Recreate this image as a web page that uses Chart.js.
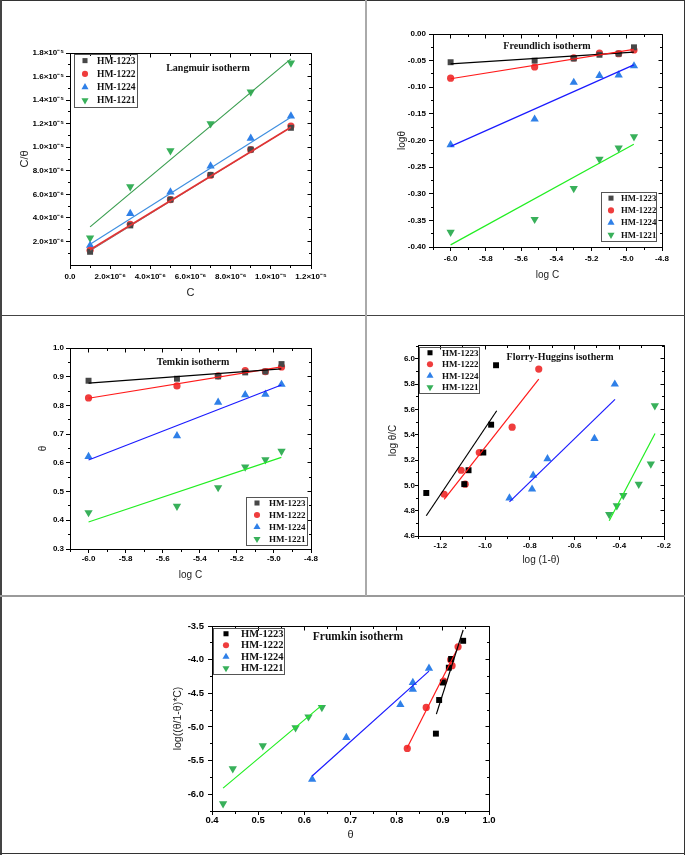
<!DOCTYPE html>
<html><head><meta charset="utf-8">
<script src="https://cdn.jsdelivr.net/npm/chart.js@4.4.1/dist/chart.umd.min.js"></script>
<style>
html,body{margin:0;padding:0;background:#fff;}
#page{position:relative;width:685px;height:855px;overflow:hidden;background:#fff;}
canvas{position:absolute;}
.ln{position:absolute;z-index:5;}
</style></head><body>
<div id="page">
<canvas id="c1"></canvas><canvas id="c2"></canvas><canvas id="c3"></canvas><canvas id="c4"></canvas><canvas id="c5"></canvas>
<div class="ln" style="left:0;top:0;width:685px;height:1px;background:#333"></div>
<div class="ln" style="left:0;top:0;width:2px;height:855px;background:#444"></div>
<div class="ln" style="left:684px;top:0;width:1px;height:855px;background:#333"></div>
<div class="ln" style="left:0;top:853px;width:685px;height:1px;background:#333"></div>
<div class="ln" style="left:0;top:315px;width:685px;height:1px;background:#444"></div>
<div class="ln" style="left:0;top:595px;width:685px;height:2px;background:#9a9a9a"></div>
<div class="ln" style="left:365px;top:0;width:2px;height:596px;background:#aaa"></div>
</div>
<script>
// ---------------- DATA ----------------
const seriesNames = ['HM-1223', 'HM-1222', 'HM-1224', 'HM-1221'];

// Langmuir: C vs C/theta
const langC = [1e-6, 3e-6, 5e-6, 7e-6, 9e-6, 1.1e-5];
const lang1223 = [1.12e-6, 3.36e-6, 5.55e-6, 7.65e-6, 9.8e-6, 1.165e-5];
const lang1222 = [1.25e-6, 3.45e-6, 5.55e-6, 7.62e-6, 9.8e-6, 1.18e-5];
const lang1224 = [1.66e-6, 4.37e-6, 6.2e-6, 8.4e-6, 1.076e-5, 1.265e-5];
const lang1221 = [2.3e-6, 6.65e-6, 9.7e-6, 1.2e-5, 1.47e-5, 1.715e-5];
const langFitX = [1e-6, 1.1e-5];
const langFit1223 = [1.2e-6, 1.17e-5];
const langFit1222 = [1.3e-6, 1.17e-5];
const langFit1224 = [1.77e-6, 1.255e-5];
const langFit1221 = [3.24e-6, 1.75e-5];
const langXTicks = [0, 2e-6, 4e-6, 6e-6, 8e-6, 1e-5, 1.2e-5];
const langXLabels = ['0.0', '2.0×10⁻⁶', '4.0×10⁻⁶', '6.0×10⁻⁶', '8.0×10⁻⁶', '1.0×10⁻⁵', '1.2×10⁻⁵'];
const langYTicks = [2e-6, 4e-6, 6e-6, 8e-6, 1e-5, 1.2e-5, 1.4e-5, 1.6e-5, 1.8e-5];
const langYLabels = ['2.0×10⁻⁶', '4.0×10⁻⁶', '6.0×10⁻⁶', '8.0×10⁻⁶', '1.0×10⁻⁵', '1.2×10⁻⁵', '1.4×10⁻⁵', '1.6×10⁻⁵', '1.8×10⁻⁵'];

// Freundlich: log C vs log theta
const logC = [-6.0, -5.523, -5.301, -5.155, -5.046, -4.959];
const freu1223 = [-0.053, -0.050, -0.046, -0.039, -0.037, -0.025];
const freu1222 = [-0.083, -0.062, -0.045, -0.036, -0.037, -0.030];
const freu1224 = [-0.208, -0.160, -0.091, -0.078, -0.077, -0.060];
const freu1221 = [-0.372, -0.348, -0.290, -0.235, -0.214, -0.193];
const freuFitX = [-6.0, -4.96];
const freuFit1223 = [-0.056, -0.034];
const freuFit1222 = [-0.084, -0.029];
const freuFit1224 = [-0.211, -0.058];
const freuFit1221 = [-0.396, -0.207];
const logCTicks = [-6.0, -5.8, -5.6, -5.4, -5.2, -5.0, -4.8];
const logCLabels = ['-6.0', '-5.8', '-5.6', '-5.4', '-5.2', '-5.0', '-4.8'];
const freuYTicks = [-0.40, -0.35, -0.30, -0.25, -0.20, -0.15, -0.10, -0.05, 0.00];
const freuYLabels = ['-0.40', '-0.35', '-0.30', '-0.25', '-0.20', '-0.15', '-0.10', '-0.05', '0.00'];

// Temkin: log C vs theta
const temk1223 = [0.886, 0.893, 0.901, 0.915, 0.918, 0.944];
const temk1222 = [0.826, 0.868, 0.903, 0.921, 0.918, 0.934];
const temk1224 = [0.622, 0.694, 0.811, 0.837, 0.839, 0.873];
const temk1221 = [0.427, 0.449, 0.514, 0.586, 0.611, 0.641];
const temkFitX = [-6.0, -4.96];
const temkFit1223 = [0.878, 0.927];
const temkFit1222 = [0.825, 0.934];
const temkFit1224 = [0.610, 0.871];
const temkFit1221 = [0.394, 0.619];
const temkYTicks = [0.3, 0.4, 0.5, 0.6, 0.7, 0.8, 0.9, 1.0];
const temkYLabels = ['0.3', '0.4', '0.5', '0.6', '0.7', '0.8', '0.9', '1.0'];

// Florry-Huggins: log(1-theta) vs log(theta/C)
const fhX1223 = [-1.263, -1.093, -1.074, -1.008, -0.973, -0.951];
const fhY1223 = [4.94, 5.01, 5.12, 5.26, 5.48, 5.95];
const fhX1222 = [-1.183, -1.107, -1.089, -1.026, -0.879, -0.760];
const fhY1222 = [4.93, 5.12, 5.01, 5.26, 5.46, 5.92];
const fhX1224 = [-0.891, -0.790, -0.785, -0.721, -0.511, -0.420];
const fhY1224 = [4.90, 4.97, 5.08, 5.21, 5.37, 5.80];
const fhX1221 = [-0.445, -0.411, -0.382, -0.313, -0.259, -0.241];
const fhY1221 = [4.77, 4.84, 4.92, 5.01, 5.17, 5.63];
const fhFitX1223 = [-1.263, -0.948]; const fhFitY1223 = [4.76, 5.59];
const fhFitX1222 = [-1.183, -0.760]; const fhFitY1222 = [4.89, 5.84];
const fhFitX1224 = [-0.891, -0.419]; const fhFitY1224 = [4.87, 5.68];
const fhFitX1221 = [-0.445, -0.240]; const fhFitY1221 = [4.72, 5.41];
const fhXTicks = [-1.2, -1.0, -0.8, -0.6, -0.4, -0.2];
const fhXLabels = ['-1.2', '-1.0', '-0.8', '-0.6', '-0.4', '-0.2'];
const fhYTicks = [4.6, 4.8, 5.0, 5.2, 5.4, 5.6, 5.8, 6.0];
const fhYLabels = ['4.6', '4.8', '5.0', '5.2', '5.4', '5.6', '5.8', '6.0'];

// Frumkin: theta vs log((theta/1-theta)*C)
const frX1223 = [0.885, 0.892, 0.900, 0.913, 0.918, 0.944];
const frY1223 = [-5.10, -4.60, -4.34, -4.12, -3.99, -3.72];
const frX1222 = [0.823, 0.864, 0.902, 0.917, 0.920, 0.933];
const frY1222 = [-5.32, -4.71, -4.32, -4.00, -4.09, -3.81];
const frX1224 = [0.617, 0.691, 0.808, 0.835, 0.835, 0.870];
const frY1224 = [-5.78, -5.16, -4.67, -4.44, -4.34, -4.13];
const frX1221 = [0.424, 0.445, 0.510, 0.581, 0.609, 0.638];
const frY1221 = [-6.14, -5.62, -5.28, -5.01, -4.85, -4.71];
const frFitX1223 = [0.886, 0.944]; const frFitY1223 = [-4.81, -3.56];
const frFitX1222 = [0.822, 0.936]; const frFitY1222 = [-5.32, -3.78];
const frFitX1224 = [0.617, 0.870]; const frFitY1224 = [-5.73, -4.17];
const frFitX1221 = [0.424, 0.6375]; const frFitY1221 = [-5.91, -4.68];
const frXTicks = [0.4, 0.5, 0.6, 0.7, 0.8, 0.9, 1.0];
const frXLabels = ['0.4', '0.5', '0.6', '0.7', '0.8', '0.9', '1.0'];
const frYTicks = [-6.0, -5.5, -5.0, -4.5, -4.0, -3.5];
const frYLabels = ['-6.0', '-5.5', '-5.0', '-4.5', '-4.0', '-3.5'];

// ---------------- STYLE ----------------
const markerStyles = [
  {ps: 'rect', r: 4.2, rot: 0, lg: 'rect'},
  {ps: 'circle', r: 3.6, rot: 0, lg: 'circle'},
  {ps: 'triangle', r: 4.8, rot: 0, lg: 'tri'},
  {ps: 'triangle', r: 4.8, rot: 180, lg: 'down'}
];
const mColA = ['#474747', '#ef3d3d', '#2f80e8', '#38b05a'];
const mColB = ['#000000', '#ef3d3d', '#2f80e8', '#38b05a'];
const lColA = ['#666666', '#e03434', '#3f8fe0', '#3a9e50'];
const lColB = ['#000000', '#ff1a1a', '#1a1aff', '#22ee22'];

function pts(xs, ys) { return xs.map((x, i) => ({x: x, y: ys[i]})); }

function drawMarker(ctx, style, x, y, r, color) {
  ctx.fillStyle = color; ctx.beginPath();
  if (style === 'rect') { const h = r * Math.SQRT1_2; ctx.rect(x - h, y - h, 2 * h, 2 * h); }
  else if (style === 'circle') { ctx.arc(x, y, r, 0, Math.PI * 2); }
  else if (style === 'tri') { ctx.moveTo(x, y - r); ctx.lineTo(x + r * 0.866, y + r / 2); ctx.lineTo(x - r * 0.866, y + r / 2); ctx.closePath(); }
  else { ctx.moveTo(x, y + r); ctx.lineTo(x + r * 0.866, y - r / 2); ctx.lineTo(x - r * 0.866, y - r / 2); ctx.closePath(); }
  ctx.fill();
}

function minorsOf(ticks, min, max) {
  const out = [];
  for (let i = 0; i < ticks.length - 1; i++) out.push((ticks[i] + ticks[i + 1]) / 2);
  const st = ticks[1] - ticks[0];
  const lo = ticks[0] - st / 2, hi = ticks[ticks.length - 1] + st / 2;
  if (lo >= min - 1e-12) out.push(lo);
  if (hi <= max + 1e-12) out.push(hi);
  return out;
}
const al = p => Math.round(p - 0.5) + 0.5;

const isoPlugin = {
  id: 'iso',
  afterDraw(chart, args, o) {
    const ctx = chart.ctx, a = chart.chartArea;
    const xs = chart.scales.x, ys = chart.scales.y;
    const L = al(a.left), R = al(a.right), T = al(a.top), B = al(a.bottom);
    ctx.save();
    ctx.strokeStyle = '#000'; ctx.lineWidth = 1;
    ctx.beginPath();
    ctx.moveTo(L, T); ctx.lineTo(R, T); ctx.lineTo(R, B);
    o.xt.forEach(v => { const p = al(xs.getPixelForValue(v)); ctx.moveTo(p, T); ctx.lineTo(p, T + 4); });
    o.yt.forEach(v => { const p = al(ys.getPixelForValue(v)); ctx.moveTo(R, p); ctx.lineTo(R - 4, p); });
    minorsOf(o.xt, xs.min, xs.max).forEach(v => { const p = al(xs.getPixelForValue(v)); ctx.moveTo(p, B); ctx.lineTo(p, B + 2.5); ctx.moveTo(p, T); ctx.lineTo(p, T + 2.5); });
    minorsOf(o.yt, ys.min, ys.max).forEach(v => { const p = al(ys.getPixelForValue(v)); ctx.moveTo(L, p); ctx.lineTo(L - 2.5, p); ctx.moveTo(R, p); ctx.lineTo(R - 2.5, p); });
    ctx.stroke();
    ctx.fillStyle = '#111';
    ctx.font = 'bold ' + o.title.size + 'px "Liberation Serif", "DejaVu Serif", serif';
    ctx.textAlign = 'center'; ctx.textBaseline = 'middle';
    ctx.fillText(o.title.text, o.title.x - o.ox, o.title.y - o.oy);
    const lg = o.legend;
    const lx = lg.x - o.ox, ly = lg.y - o.oy;
    ctx.strokeStyle = '#555'; ctx.lineWidth = 1;
    ctx.strokeRect(Math.round(lx) + 0.5, Math.round(ly) + 0.5, lg.w, lg.h);
    const rh = lg.h / 4;
    ctx.font = 'bold ' + lg.size + 'px "Liberation Serif", "DejaVu Serif", serif';
    ctx.textAlign = 'left'; ctx.textBaseline = 'middle';
    for (let i = 0; i < 4; i++) {
      const cy = ly + rh * (i + 0.5);
      drawMarker(ctx, markerStyles[i].lg, lx + lg.mdx, cy, markerStyles[i].r * 0.85, o.mcol[i]);
      ctx.fillStyle = '#111';
      ctx.fillText(seriesNames[i], lx + lg.tdx, cy + 0.5);
    }
    ctx.restore();
  }
};

function makeChart(s) {
  const cv = document.getElementById(s.id);
  cv.width = s.cell.w; cv.height = s.cell.h;
  cv.style.left = s.cell.x + 'px'; cv.style.top = s.cell.y + 'px';
  cv.style.width = s.cell.w + 'px'; cv.style.height = s.cell.h + 'px';
  const l = s.area.l - s.cell.x, t = s.area.t - s.cell.y, r = s.area.r - s.cell.x, b = s.area.b - s.cell.y;
  const padL = 2, padB = 2;
  const Wy = l - padL, Hx = s.cell.h - b - padB;
  const lhY = s.y.titleSize * 1.2, lhX = s.x.titleSize * 1.2;
  const yTitlePad = (s.y.titleAt - s.cell.x) - padL - lhY / 2;
  const xTitlePad = (b + Hx) - (s.x.titleAt - s.cell.y) - lhX / 2;
  const datasets = [];
  s.fits.forEach((f) => {
    datasets.push({label: 'fit ' + seriesNames[f.k], data: f.data, showLine: true, borderColor: s.lcol[f.k],
      borderWidth: f.w || 1.2, pointRadius: 0, fill: false, order: 0});
  });
  s.series.forEach((d, i) => {
    const m = markerStyles[i];
    datasets.push({label: seriesNames[i], data: d, showLine: false, pointStyle: m.ps, rotation: m.rot,
      pointRadius: m.r, pointBorderWidth: 0, borderWidth: 0, backgroundColor: s.mcol[i], pointBackgroundColor: s.mcol[i], order: 1});
  });
  const tickFont = {family: '"Liberation Sans", Arial, sans-serif', size: s.tickSize, weight: 'bold'};
  new Chart(cv, {
    type: 'scatter',
    data: {datasets: datasets},
    options: {
      responsive: false, animation: false, devicePixelRatio: 1,
      layout: {padding: {left: padL, top: t, right: s.cell.w - r, bottom: padB}},
      plugins: {
        legend: {display: false}, tooltip: {enabled: false},
        iso: {xt: s.x.ticks, yt: s.y.ticks, title: s.title, legend: s.legend, ox: s.cell.x, oy: s.cell.y, mcol: s.mcol}
      },
      scales: {
        x: {type: 'linear', position: 'bottom', min: s.x.min, max: s.x.max,
          afterBuildTicks: sc => { sc.ticks = s.x.ticks.map(v => ({value: v})); },
          afterFit: sc => { sc.height = Hx; },
          ticks: {autoSkip: false, maxRotation: 0, minRotation: 0, padding: s.x.tickPad, color: '#000', font: tickFont,
            callback: (v, i) => s.x.labels[i]},
          grid: {display: true, drawOnChartArea: false, drawTicks: true, tickLength: 4, color: '#000', lineWidth: 1},
          border: {display: true, color: '#000', width: 1},
          title: {display: true, text: s.x.title, color: '#222',
            font: {family: '"Liberation Sans", Arial, sans-serif', size: s.x.titleSize}, padding: {top: 0, bottom: xTitlePad}}
        },
        y: {type: 'linear', position: 'left', min: s.y.min, max: s.y.max,
          afterBuildTicks: sc => { sc.ticks = s.y.ticks.map(v => ({value: v})); },
          afterFit: sc => { sc.width = Wy; },
          ticks: {autoSkip: false, padding: s.y.tickPad, color: '#000', font: tickFont,
            callback: (v, i) => s.y.labels[i]},
          grid: {display: true, drawOnChartArea: false, drawTicks: true, tickLength: s.y.tickLen || 4, color: '#000', lineWidth: 1},
          border: {display: true, color: '#000', width: 1},
          title: {display: true, text: s.y.title, color: '#222',
            font: {family: '"Liberation Sans", Arial, sans-serif', size: s.y.titleSize}, padding: {top: yTitlePad, bottom: 0}}
        }
      }
    },
    plugins: [isoPlugin]
  });
}

// Panel 1: Langmuir
makeChart({
  id: 'c1', cell: {x: 2, y: 1, w: 364, h: 313}, area: {l: 70, t: 53, r: 311, b: 265},
  tickSize: 8, mcol: mColA, lcol: lColA,
  x: {min: 0, max: 1.2e-5, ticks: langXTicks, labels: langXLabels, title: 'C', titleAt: 293, titleSize: 11, tickPad: 3},
  y: {min: 0, max: 1.8e-5, ticks: langYTicks, labels: langYLabels, title: 'C/θ', titleAt: 25, titleSize: 11, tickPad: 2},
  title: {text: 'Langmuir isotherm', x: 208, y: 68, size: 10},
  legend: {x: 74, y: 54, w: 63, h: 53, mdx: 11, tdx: 23, size: 9.5},
  series: [pts(langC, lang1223), pts(langC, lang1222), pts(langC, lang1224), pts(langC, lang1221)],
  fits: [{k: 1, w: 1.8, data: pts(langFitX, langFit1222)}, {k: 0, w: 0.8, data: pts(langFitX, langFit1223)},
         {k: 2, data: pts(langFitX, langFit1224)}, {k: 3, data: pts(langFitX, langFit1221)}]
});

// Panel 2: Freundlich
makeChart({
  id: 'c2', cell: {x: 368, y: 1, w: 316, h: 313}, area: {l: 433, t: 34, r: 662, b: 247},
  tickSize: 8, mcol: mColA, lcol: lColB,
  x: {min: -6.1, max: -4.8, ticks: logCTicks, labels: logCLabels, title: 'log C', titleAt: 275, titleSize: 10, tickPad: 3},
  y: {min: -0.40, max: 0.0, ticks: freuYTicks, labels: freuYLabels, title: 'logθ', titleAt: 402, titleSize: 10, tickPad: 3},
  title: {text: 'Freundlich isotherm', x: 547, y: 46, size: 10},
  legend: {x: 601, y: 192, w: 55, h: 49, mdx: 10, tdx: 20, size: 8.7},
  series: [pts(logC, freu1223), pts(logC, freu1222), pts(logC, freu1224), pts(logC, freu1221)],
  fits: [{k: 1, data: pts(freuFitX, freuFit1222)}, {k: 0, data: pts(freuFitX, freuFit1223)},
         {k: 2, data: pts(freuFitX, freuFit1224)}, {k: 3, data: pts(freuFitX, freuFit1221)}]
});

// Panel 3: Temkin
makeChart({
  id: 'c3', cell: {x: 2, y: 316, w: 363, h: 279}, area: {l: 70, t: 348, r: 311, b: 549},
  tickSize: 8, mcol: mColA, lcol: lColB,
  x: {min: -6.1, max: -4.8, ticks: logCTicks, labels: logCLabels, title: 'log C', titleAt: 575, titleSize: 10, tickPad: 1},
  y: {min: 0.3, max: 1.0, ticks: temkYTicks, labels: temkYLabels, title: 'θ', titleAt: 43, titleSize: 10, tickPad: 2},
  title: {text: 'Temkin isotherm', x: 193, y: 362, size: 10},
  legend: {x: 246, y: 497, w: 61, h: 48, mdx: 11, tdx: 23, size: 9},
  series: [pts(logC, temk1223), pts(logC, temk1222), pts(logC, temk1224), pts(logC, temk1221)],
  fits: [{k: 0, data: pts(temkFitX, temkFit1223)}, {k: 1, data: pts(temkFitX, temkFit1222)},
         {k: 2, data: pts(temkFitX, temkFit1224)}, {k: 3, data: pts(temkFitX, temkFit1221)}]
});

// Panel 4: Florry-Huggins
makeChart({
  id: 'c4', cell: {x: 368, y: 316, w: 316, h: 279}, area: {l: 418, t: 345, r: 664, b: 536},
  tickSize: 8, mcol: mColB, lcol: lColB,
  x: {min: -1.3, max: -0.2, ticks: fhXTicks, labels: fhXLabels, title: 'log (1-θ)', titleAt: 560, titleSize: 10, tickPad: 1},
  y: {min: 4.6, max: 6.11, ticks: fhYTicks, labels: fhYLabels, title: 'log θ/C', titleAt: 393, titleSize: 10, tickPad: 0, tickLen: 3},
  title: {text: 'Florry-Huggins isotherm', x: 560, y: 357, size: 10},
  legend: {x: 419, y: 347, w: 60, h: 46, mdx: 11, tdx: 23, size: 9},
  series: [pts(fhX1223, fhY1223), pts(fhX1222, fhY1222), pts(fhX1224, fhY1224), pts(fhX1221, fhY1221)],
  fits: [{k: 0, data: pts(fhFitX1223, fhFitY1223)}, {k: 1, data: pts(fhFitX1222, fhFitY1222)},
         {k: 2, data: pts(fhFitX1224, fhFitY1224)}, {k: 3, data: pts(fhFitX1221, fhFitY1221)}]
});

// Panel 5: Frumkin
makeChart({
  id: 'c5', cell: {x: 2, y: 598, w: 682, h: 255}, area: {l: 212, t: 626, r: 489, b: 811},
  tickSize: 9.5, mcol: mColB, lcol: lColB,
  x: {min: 0.4, max: 1.0, ticks: frXTicks, labels: frXLabels, title: 'θ', titleAt: 835, titleSize: 11, tickPad: 0},
  y: {min: -6.25, max: -3.5, ticks: frYTicks, labels: frYLabels, title: 'log((θ/1-θ)*C)', titleAt: 178, titleSize: 10.5, tickPad: 4},
  title: {text: 'Frumkin isotherm', x: 358, y: 637, size: 11.5},
  legend: {x: 213, y: 628, w: 71, h: 46, mdx: 13, tdx: 28, size: 10.5},
  series: [pts(frX1223, frY1223), pts(frX1222, frY1222), pts(frX1224, frY1224), pts(frX1221, frY1221)],
  fits: [{k: 0, data: pts(frFitX1223, frFitY1223)}, {k: 1, data: pts(frFitX1222, frFitY1222)},
         {k: 2, data: pts(frFitX1224, frFitY1224)}, {k: 3, data: pts(frFitX1221, frFitY1221)}]
});
</script>
</body></html>
